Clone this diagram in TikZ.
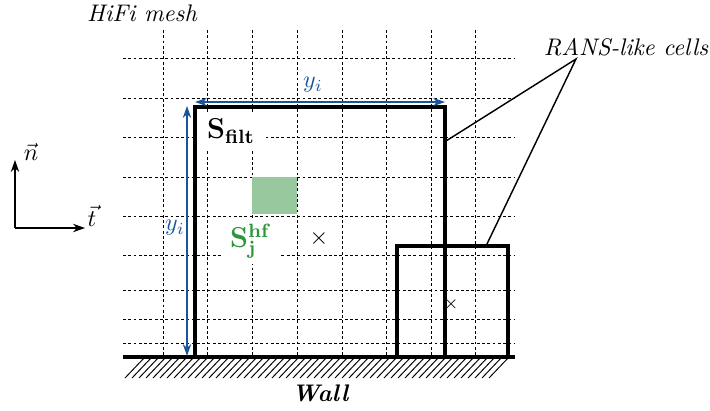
\documentclass[tikz,border=0pt]{standalone}
\usetikzlibrary{arrows.meta}
\definecolor{myblue}{RGB}{25,85,155}
\definecolor{mygreen}{RGB}{45,150,60}
\definecolor{lightgreen}{RGB}{152,201,158}
\begin{document}
\begin{tikzpicture}[x=0.4167pt,y=-0.4167pt,
  gridline/.style={line width=0.4pt,dash pattern=on 1.2pt off 1pt},
  cellbox/.style={line width=1.3pt},
  hatchline/.style={line width=0.4pt},
  dimarrow/.style={myblue,line width=0.6pt,{Stealth[length=5pt,width=3.5pt]}-{Stealth[length=5pt,width=3.5pt]}},
  axisarrow/.style={line width=0.6pt,-{Stealth[length=5pt,width=3.5pt]}},
  leader/.style={line width=0.6pt},
  whitelabel/.style={fill=white,inner sep=0pt}]
\useasboundingbox (0,0) rectangle (710,410);
% grid
\foreach \yy in {58,98,137,177,216,255,290,319,343}
  \draw[gridline] (123,\yy) -- (515,\yy);
\foreach \xx in {163,207,252,297,342,386,431,475}
  \draw[gridline] (\xx,30) -- (\xx,357);
% green HiFi cell
\fill[lightgreen] (252,177) rectangle (297,214);
% labels with white background
\node[whitelabel,minimum width=29pt,minimum height=15.8pt,font=\large] (sfilt) at (231,131) {$\mathbf{S_{filt}}$};
\node[whitelabel,minimum width=24pt,minimum height=19.4pt,text=mygreen,font=\large] (shf) at (251,241) {$\mathbf{S_{j}^{hf}}$};
% wall
\foreach \hx in {125,132,...,495}
  \draw[hatchline] (\hx,378) -- (\hx+20,357);
\draw[cellbox] (123,357) -- (515,357);
\node[font=\bfseries\itshape] (wall) at (320,393) {Wall};
% filtering box
\draw[cellbox] (195,357) -- (195,107) -- (445,107) -- (445,357);
% RANS-like cell
\draw[cellbox] (397,357) -- (397,246) -- (508,246) -- (508,357);
% crosses
\node (c1) at (319,238) {$\times$};
\node[font=\scriptsize] (c2) at (451,304) {$\times$};
% dimension arrows
\coordinate (h1) at (195,102);
\coordinate (h2) at (445,102);
\draw[dimarrow] (h1) -- (h2);
\node[myblue] (yh) at (313,85) {$y_i$};
\coordinate (v1) at (187,106);
\coordinate (v2) at (187,356);
\draw[dimarrow] (v1) -- (v2);
\node[myblue] (yv) at (175,228) {$y_i$};
% labels
\node[font=\itshape] (hifi) at (142,13) {HiFi mesh};
\node[font=\itshape] (rans) at (626,47) {RANS-like cells};
\coordinate (apex) at (576,59);
\coordinate (e1) at (446,141);
\coordinate (e2) at (486,246);
\draw[leader] (e1) -- (apex) -- (e2);
% axes
\coordinate (o) at (15,228);
\coordinate (nend) at (15,160);
\coordinate (tend) at (85,228);
\draw[axisarrow] (o) -- (nend);
\draw[axisarrow] (o) -- (tend);
\node (n) at (31,152) {$\vec{n}$};
\node (t) at (92,216) {$\vec{t}$};
\end{tikzpicture}
\end{document}
